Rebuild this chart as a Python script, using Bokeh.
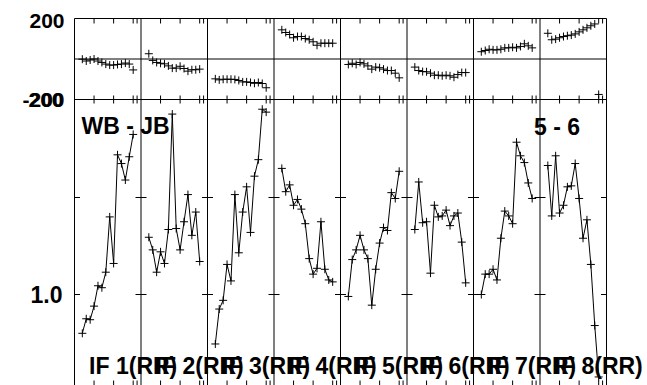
from bokeh.plotting import figure
from bokeh.models import Range1d, Label
from bokeh.embed import file_html
from bokeh.resources import INLINE

# ---------------- data ----------------
baseline_name = "WB - JB"
source_name = "5 - 6"
if_labels = ["IF 1(RR)", "IF 2(RR)", "IF 3(RR)", "IF 4(RR)",
             "IF 5(RR)", "IF 6(RR)", "IF 7(RR)", "IF 8(RR)"]
times = [2, 3, 4, 5, 6, 7, 8, 9, 10, 11, 12, 13, 14, 15]
time_ticks = [5, 10, 15, 16]
panel_span = 17
amp_ticks = [1.0, 1.1]
amp_labels = [1.0]
phase_limits = [200, -200]

amp_if1 = [0.960, 0.975, 0.974, 0.988, 1.009, 1.007, 1.023, 1.080, 1.032, 1.144, 1.135, 1.118, 1.142, 1.165]
amp_if2 = [1.059, 1.046, 1.023, 1.044, 1.032, 1.067, 1.186, 1.068, 1.046, 1.075, 1.103, 1.061, 1.085, 1.034]
amp_if3 = [0.949, 0.985, 0.994, 1.031, 1.014, 1.103, 1.043, 1.085, 1.111, 1.064, 1.122, 1.139, 1.191, 1.188]
amp_if4 = [1.130, 1.106, 1.113, 1.092, 1.098, 1.088, 1.073, 1.037, 1.021, 1.027, 1.075, 1.026, 1.015, 1.013]
amp_if5 = [0.998, 1.036, 1.046, 1.061, 1.046, 1.037, 0.989, 1.026, 1.053, 1.069, 1.066, 1.105, 1.099, 1.127]
amp_if6 = [1.067, 1.116, 1.074, 1.075, 1.022, 1.092, 1.080, 1.081, 1.087, 1.071, 1.081, 1.084, 1.054, 1.012]
amp_if7 = [1.000, 1.021, 1.021, 1.026, 1.015, 1.058, 1.086, 1.081, 1.073, 1.157, 1.143, 1.136, 1.115, 1.099]
amp_if8 = [1.133, 1.081, 1.143, 1.084, 1.092, 1.111, 1.112, 1.135, 1.099, 1.058, 1.077, 1.031, 0.968, 0.915]

ph_if1 = [-1, -10, -5, 0, -10, -17, -25, -30, -30, -27, -25, -20, -25, -54]
ph_if2 = [26, -7, -17, -21, -24, -34, -45, -45, -36, -47, -60, -53, -53, -50]
ph_if3 = [-98, -103, -100, -100, -100, -101, -106, -113, -113, -116, -120, -116, -121, -142]
ph_if4 = [144, 131, 121, 105, 111, 111, 101, 95, 85, 68, 78, 78, 78, 78]
ph_if5 = [-27, -21, -27, -17, -24, -34, -50, -40, -43, -50, -57, -57, -70, -93]
ph_if6 = [-40, -57, -62, -63, -70, -80, -80, -83, -80, -83, -90, -77, -67, -67]
ph_if7 = [36, 42, 48, 45, 45, 48, 55, 55, 58, 55, 62, 75, 65, 55]
ph_if8 = [127, 95, 98, 105, 111, 115, 118, 124, 134, 144, 154, 164, 173, -175]

amps = [amp_if1, amp_if2, amp_if3, amp_if4, amp_if5, amp_if6, amp_if7, amp_if8]
phases = [ph_if1, ph_if2, ph_if3, ph_if4, ph_if5, ph_if6, ph_if7, ph_if8]

# ---------------- layout (pixel geometry of the canvas) ----------------
W, H = 647, 385
n_pan = len(if_labels)
PANEL_PX = 66.5                        # width of one IF panel
LEFT_PX = 74.0                         # x of first panel border
PX_PER_T = PANEL_PX / panel_span
AMP_PX = 970.0                         # px per amplitude unit
AMP1_Y = 294.0                         # y of amplitude 1.0
PH_PX = 81.0 / 400.0                   # px per degree
PH0_Y = 58.5                           # y of phase 0

x_lo = -LEFT_PX / PX_PER_T
x_hi = (W - LEFT_PX) / PX_PER_T
amp_hi = 1.0 + AMP1_Y / AMP_PX
amp_lo = 1.0 - (H - AMP1_Y) / AMP_PX
ph_hi = PH0_Y / PH_PX
ph_lo = -(H - PH0_Y) / PH_PX

p = figure(width=W, height=H, output_backend="svg", toolbar_location=None,
           x_range=Range1d(x_lo, x_hi), y_range=Range1d(amp_lo, amp_hi),
           x_axis_location=None, y_axis_location=None,
           min_border_left=0, min_border_right=0,
           min_border_top=0, min_border_bottom=0)
p.extra_y_ranges = {"phase": Range1d(ph_lo, ph_hi)}
p.outline_line_color = None
p.xgrid.visible = False
p.ygrid.visible = False
p.background_fill_color = "white"
p.border_fill_color = "white"

FONT = "Liberation Sans"
x_end = float(n_pan * panel_span)

# panel borders (from the top of the phase box to the bottom of the page)
vx = [float(i * panel_span) for i in range(n_pan + 1)]
p.segment(x0=vx, x1=vx, y0=[phase_limits[0]] * len(vx), y1=[ph_lo] * len(vx),
          y_range_name="phase", line_color="black", line_width=1)
# horizontal lines of the phase box and its zero line
p.segment(x0=[0.0] * 3, x1=[x_end] * 3, y0=[200, 0, -200], y1=[200, 0, -200],
          y_range_name="phase", line_color="black", line_width=1)

# x ticks
tx = [i * panel_span + t for i in range(n_pan) for t in time_ticks]
tk = 5 / PH_PX
p.segment(x0=tx, x1=tx, y0=[200] * len(tx), y1=[200 - tk] * len(tx),
          y_range_name="phase", line_color="black")
tk2 = 4 / PH_PX
p.segment(x0=tx, x1=tx, y0=[-200 + tk2] * len(tx), y1=[-200 - tk2] * len(tx),
          y_range_name="phase", line_color="black")
p.segment(x0=tx, x1=tx, y0=[amp_lo] * len(tx), y1=[amp_lo + 5 / AMP_PX] * len(tx),
          line_color="black")

# y ticks at each panel border
bx = [i * panel_span for i in range(n_pan + 1) for a in amp_ticks]
by = [a for i in range(n_pan + 1) for a in amp_ticks]
half = 5.5 / PX_PER_T
bx0 = [max(b - half, 0.0) for b in bx]
bx1 = [min(b + half, x_end) for b in bx]
p.segment(x0=bx0, x1=bx1, y0=by, y1=by, line_color="black")

# data
for i in range(n_pan):
    xs = [i * panel_span + t for t in times]
    p.line(xs, amps[i], line_color="black", line_width=1)
    p.scatter(xs, amps[i], marker="cross", size=8, line_color="black", line_width=1)
    p.scatter(xs, phases[i], marker="cross", size=8, line_color="black", line_width=1,
              y_range_name="phase")

def lab(text, x, y, size, align="left", baseline="alphabetic", yr="default"):
    p.add_layout(Label(x=x, y=y, y_range_name=yr, text=text, text_font=FONT,
                       text_font_style="bold", text_font_size=size,
                       text_align=align, text_baseline=baseline,
                       text_color="black"))

# y tick labels
lab("200", -10 / PX_PER_T, phase_limits[0] - 2 / PH_PX, "21px", "right", "middle", "phase")
lab("-200", -10 / PX_PER_T, phase_limits[1], "21px", "right", "middle", "phase")
lab("200", -11 / PX_PER_T, phase_limits[1], "21px", "right", "middle", "phase")
for a in amp_labels:
    lab("%.1f" % a, -12 / PX_PER_T, a, "23px", "right", "middle")

# titles
lab(baseline_name, 7 / PX_PER_T, 1.0 + (AMP1_Y - 125) / AMP_PX, "23px")
lab(source_name, (n_pan - 1) * panel_span + 40 / PX_PER_T,
    1.0 + (AMP1_Y - 126) / AMP_PX, "23px", "right")
for i, t in enumerate(if_labels):
    lab(t, i * panel_span + 14.6 / PX_PER_T, 1.0 + (AMP1_Y - 365) / AMP_PX, "23px")

open("out.html", "w").write(file_html(p, INLINE))
